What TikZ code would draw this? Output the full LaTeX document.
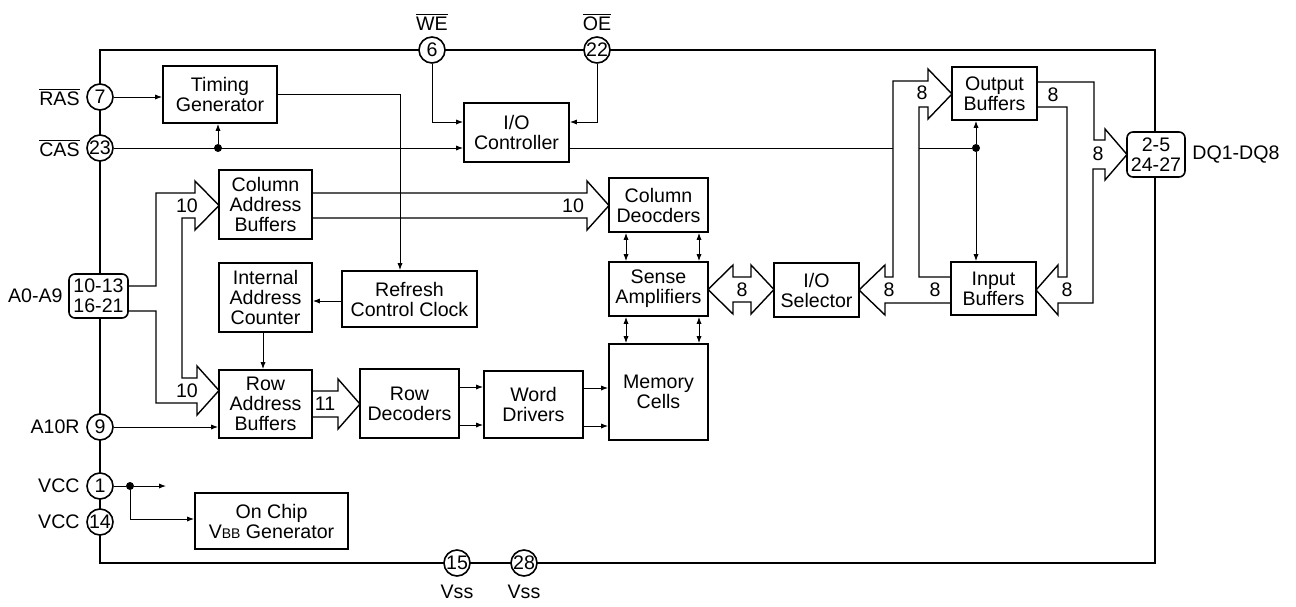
\documentclass[tikz,border=0pt]{standalone}
\usepackage{fontspec}
\setmainfont{Liberation Sans}
\usetikzlibrary{arrows.meta,calc}
\begin{document}
\begin{tikzpicture}[x=0.5pt,y=-0.5pt,
  txt/.style={font=\fontsize{9.8}{10}\selectfont},
  blk/.style={txt,draw,line width=0.9pt,align=center,inner sep=0pt,fill=white},
  pinc/.style={txt,circle,draw,line width=0.8pt,fill=white,minimum size=13pt,inner sep=0pt},
  pbox/.style={txt,draw,rounded corners=3pt,line width=0.8pt,fill=white,align=center,inner sep=0pt},
  lbl/.style={txt,inner sep=0pt},
  sig/.style={line width=0.5pt},
  arr/.style={sig,-{Latex[length=3.5pt,width=2.6pt]}},
  darr/.style={sig,{Latex[length=3.5pt,width=2.6pt]}-{Latex[length=3.5pt,width=2.6pt]}},
  bus/.style={line width=0.7pt,line join=miter},
  frame/.style={line width=1.3pt},
  dot/.style={circle,fill,inner sep=0pt,minimum size=4pt}
]
\useasboundingbox (0,0) rectangle (1296,606);
% chip outline
\draw[frame] (100,50) rectangle (1155,563);

% ---- blocks
\node[blk,minimum width=57pt,minimum height=28.5pt] (tg) at (220,94.5) {Timing\\Generator};
\node[blk,minimum width=52.5pt,minimum height=29.5pt] (ioc) at (516.5,132.5) {I/O\\Controller};
\node[blk,minimum width=46.5pt,minimum height=34.5pt] (cab) at (265.5,204.5) {Column\\Address\\Buffers};
\node[blk,minimum width=46.5pt,minimum height=34.5pt] (iac) at (265.5,297.5) {Internal\\Address\\Counter};
\node[blk,minimum width=67.5pt,minimum height=28pt] (rcc) at (409.5,299) {Refresh\\Control Clock};
\node[blk,minimum width=46.5pt,minimum height=34pt] (rab) at (265.5,404) {Row\\Address\\Buffers};
\node[blk,minimum width=49.5pt,minimum height=34.5pt] (rdec) at (409.5,403.5) {Row\\Decoders};
\node[blk,minimum width=49.5pt,minimum height=33.5pt] (wdrv) at (533.5,404.5) {Word\\Drivers};
\node[blk,minimum width=49.5pt,minimum height=48pt] (mem) at (658.5,392) {Memory\\Cells};
\node[blk,minimum width=49.5pt,minimum height=27pt] (cdec) at (658.5,205) {Column\\Deocders};
\node[blk,minimum width=49.5pt,minimum height=27pt] (samp) at (658.5,289) {Sense\\Amplifiers};
\node[blk,minimum width=42.5pt,minimum height=27pt] (iosel) at (816.5,290) {I/O\\Selector};
\node[blk,minimum width=42.5pt,minimum height=26.5pt] (obuf) at (994.5,93.5) {Output\\Buffers};
\node[blk,minimum width=42.5pt,minimum height=26.5pt] (ibuf) at (993.5,288.5) {Input\\Buffers};
\node[blk,minimum width=76.5pt,minimum height=28pt] (vbb) at (271.5,521) {On Chip\\V{\fontsize{7}{8}\selectfont BB} Generator};

% ---- pins
\node[pinc] (pras) at (100,97) {7};
\node[pinc] (pcas) at (100,148) {23};
\node[pbox,minimum width=29.5pt,minimum height=22pt] (pa) at (98.5,296) {10-13\\16-21};
\node[pinc] (pa10) at (100,427) {9};
\node[pinc] (pvcc1) at (100,486) {1};
\node[pinc] (pvcc2) at (100,522) {14};
\node[pinc] (pwe) at (432,50) {6};
\node[pinc] (poe) at (597,50) {22};
\node[pinc] (pvss1) at (457,563) {15};
\node[pinc] (pvss2) at (524,563) {28};
\node[pbox,minimum width=29pt,minimum height=22.5pt] (pdq) at (1156,154.5) {2-5\\24-27};

% ---- pin labels
\node[lbl,anchor=east] (lras) at (80,97) {$\overline{\mbox{RAS}}$};
\node[lbl,anchor=east] (lcas) at (80,148) {$\overline{\mbox{CAS}}$};
\node[lbl,anchor=east] (la) at (63,296) {A0-A9};
\node[lbl,anchor=east] (la10) at (80,427) {A10R};
\node[lbl,anchor=east] (lvcc1) at (80,486) {VCC};
\node[lbl,anchor=east] (lvcc2) at (80,522) {VCC};
\node[lbl] (lwe) at (432,22) {$\overline{\mbox{WE}}$};
\node[lbl] (loe) at (597,22) {$\overline{\mbox{OE}}$};
\node[lbl] (lvss1) at (457,592) {Vss};
\node[lbl] (lvss2) at (524,592) {Vss};
\node[lbl,anchor=west] (ldq) at (1192,155) {DQ1-DQ8};

% ---- buses (wide arrows)
\draw[bus] (128,286) -- (156,286) -- (156,193) -- (195,193) -- (195,181) -- (219,205.5) -- (195,230) -- (195,218)
  -- (182,218) -- (182,378) -- (197,378) -- (197,366) -- (219,390.5) -- (197,415) -- (197,403) -- (156,403) -- (156,311) -- (128,311);
\draw[bus] (312,193) -- (587,193) -- (587,181) -- (609,205.5) -- (587,230) -- (587,218) -- (312,218);
\draw[bus] (312,391) -- (338,391) -- (338,379) -- (360,404) -- (338,429) -- (338,417) -- (312,417);
\draw[bus] (733,277) -- (751,277) -- (751,265) -- (774,289.5) -- (751,314) -- (751,302) -- (733,302) -- (733,314) -- (708,289.5) -- (733,265) -- cycle;
\draw[bus] (951,277) -- (919,277) -- (919,107) -- (928,107) -- (928,119) -- (952,94) -- (928,69) -- (928,81) -- (893,81) -- (893,277)
  -- (885,277) -- (885,265) -- (859,290) -- (885,315) -- (885,303) -- (951,303);
\draw[bus] (1037,82) -- (1094,82) -- (1094,140) -- (1105,140) -- (1105,129) -- (1127,154.5) -- (1105,180) -- (1105,169) -- (1093,169)
  -- (1093,303) -- (1058,303) -- (1058,315) -- (1036,290) -- (1058,265) -- (1058,277) -- (1067,277) -- (1067,107) -- (1037,107);

% ---- bus widths
\node[lbl] (n1) at (187,206) {10};
\node[lbl] (n2) at (187,391) {10};
\node[lbl] (n3) at (573,206) {10};
\node[lbl] (n4) at (325,404) {11};
\node[lbl] (n5) at (742,289.5) {8};
\node[lbl] (n6) at (889,290) {8};
\node[lbl] (n7) at (935,290) {8};
\node[lbl] (n8) at (922,93) {8};
\node[lbl] (n9) at (1053,95) {8};
\node[lbl] (n10) at (1098,154) {8};
\node[lbl] (n11) at (1067,290) {8};

% ---- control signals
\draw[arr] (pras) -- (pras -| tg.west);
\draw[arr] (tg.east |- 0,94.5) -- (400,94.5) -- (400,94.5 |- rcc.north);
\draw[arr] (pcas) -- (pcas -| ioc.west);
\node[dot] (dcas) at (218,148) {};
\draw[arr] (dcas) -- (dcas |- tg.south);
\draw[arr] (pwe) -- (432,122) -- (432,122 -| ioc.west);
\draw[arr] (poe) -- (597,122) -- (597,122 -| ioc.east);
\coordinate (busl) at (893,148);
\draw[sig] (ioc.east |- 0,148) -- (busl);
\node[dot] (dio) at (976,148) {};
\draw[sig] (919,148) -- (dio);
\draw[arr] (dio) -- (dio |- obuf.south);
\draw[arr] (dio) -- (dio |- ibuf.north);
\draw[arr] (rcc.west |- 0,301) -- (iac.east |- 0,301);
\draw[arr] (263,0 |- iac.south) -- (263,0 |- rab.north);
\draw[arr] (pa10) -- (pa10 -| rab.west);
\draw[arr] (rdec.east |- 0,387) -- (wdrv.west |- 0,387);
\draw[arr] (rdec.east |- 0,425) -- (wdrv.west |- 0,425);
\draw[arr] (wdrv.east |- 0,388) -- (mem.west |- 0,388);
\draw[arr] (wdrv.east |- 0,426) -- (mem.west |- 0,426);
\draw[darr] (626,0 |- cdec.south) -- (626,0 |- samp.north);
\draw[darr] (699,0 |- cdec.south) -- (699,0 |- samp.north);
\draw[darr] (626,0 |- samp.south) -- (626,0 |- mem.north);
\draw[darr] (699,0 |- samp.south) -- (699,0 |- mem.north);
\node[dot] (dvcc) at (130,486) {};
\coordinate (vccend) at (166,486);
\draw[sig] (pvcc1) -- (dvcc);
\draw[arr] (dvcc) -- (vccend);
\draw[arr] (dvcc) -- (130,519) -- (130,519 -| vbb.west);
\end{tikzpicture}
\end{document}
